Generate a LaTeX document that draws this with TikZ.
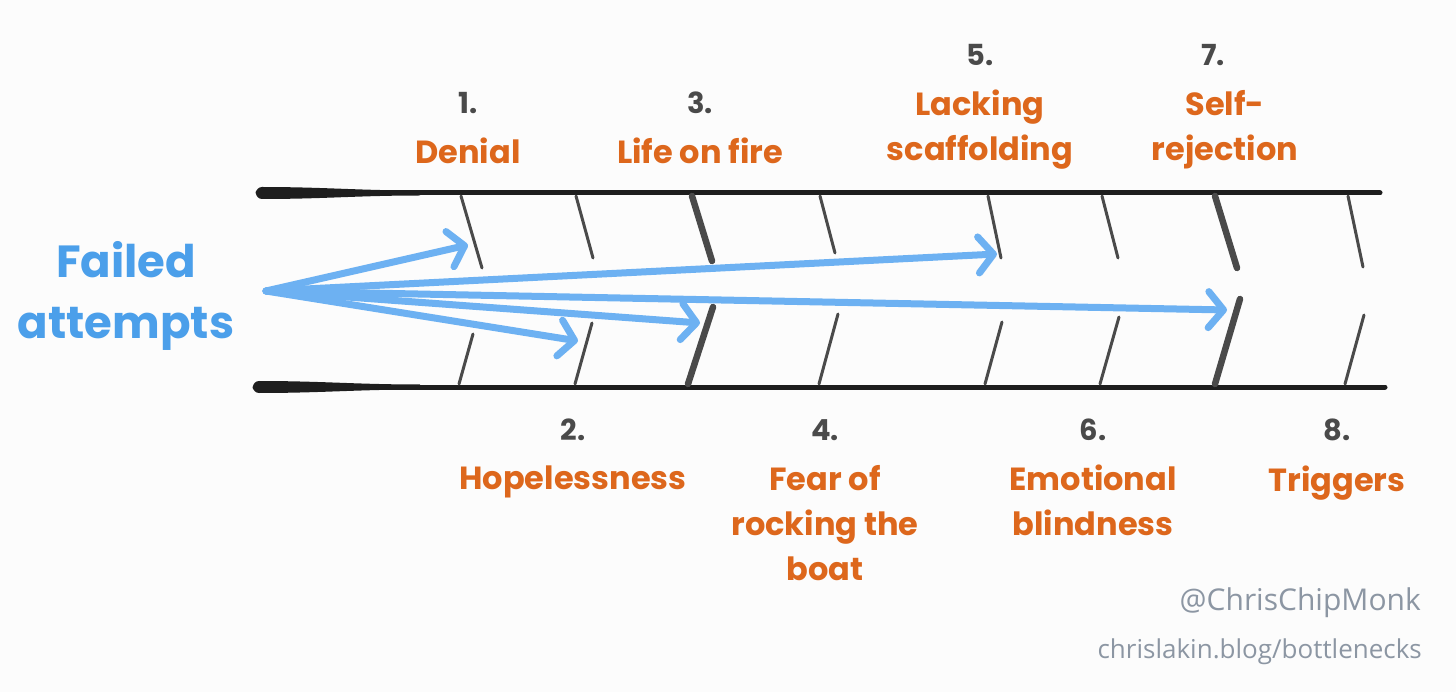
\documentclass[tikz,border=0pt]{standalone}
\usepackage{fontspec}
\usetikzlibrary{arrows.meta,positioning}
\newfontfamily\handfont{Poppins}
\newfontfamily\creditfont{Open Sans}
\definecolor{faPaper}{HTML}{FCFCFC}
\definecolor{faRail}{HTML}{1E1E1E}
\definecolor{faTick}{HTML}{4A4A4A}
\definecolor{faOrange}{HTML}{DD671C}
\definecolor{faBlue}{HTML}{4B9FEA}
\definecolor{faArrow}{HTML}{6DB1F2}
\definecolor{faGray}{HTML}{8C96A3}
\tikzset{
  rail/.style={line width=5pt, faRail, line cap=round},
  tickthin/.style={line width=3pt, faTick, line cap=round},
  tickthick/.style={line width=6.5pt, faTick, line cap=round},
  attempt/.style={line width=7pt, faArrow, line cap=round, line join=round,
    -{Straight Barb[length=15pt, width=36pt, line cap=round, line join=round]}},
  stepnum/.style={font=\handfont\bfseries\fontsize{29}{44}\selectfont, text=faTick, inner sep=0pt},
  steptext/.style={font=\handfont\bfseries\fontsize{32}{45}\selectfont, text=faOrange,
    align=center, inner sep=0pt},
  credit/.style={font=\creditfont\fontsize{#1}{#1}\selectfont, text=faGray, inner sep=0pt, anchor=east}
}
\begin{document}
\begin{tikzpicture}[x=1pt, y=-1pt, node distance=24pt]
  \fill[faPaper] (0,0) rectangle (1456,692);
  \useasboundingbox (0,0) rectangle (1456,692);

  % the two rails, thick at the left end
  \fill[faRail] (262,187) to[out=0, in=180] (420,190.5) -- (420,195.5) to[out=180, in=0] (262,199) -- cycle;
  \fill[faRail] (262,193) circle (6pt);
  \draw[rail] (258,193) -- (1380,193);
  \fill[faRail] (259,381) to[out=0, in=180] (420,384.5) -- (420,389.5) to[out=180, in=0] (259,393) -- cycle;
  \fill[faRail] (259,387) circle (6pt);
  \draw[rail] (255,387) -- (1385,387);

  % ticks hanging from the top rail
  \foreach \xa/\xb/\yb in {461/482/268, 576/593/258, 820/835/253, 988/1001/258, 1102/1118/258, 1348/1363/267}
    \draw[tickthin] (\xa,196) -- (\xb,\yb);
  \foreach \xa/\xb/\yb in {692/712/261, 1215/1237/268}
    \draw[tickthick] (\xa,196) -- (\xb,\yb);

  % ticks standing on the bottom rail
  \foreach \xa/\xb/\ya in {459/473/334, 575/592/323, 819/838/314, 985/1002/322, 1100/1119/317, 1345/1364/315}
    \draw[tickthin] (\xa,384) -- (\xb,\ya);
  \foreach \xa/\xb/\ya in {688/713/307, 1215/1240/299}
    \draw[tickthick] (\xa,384) -- (\xb,\ya);

  % failed attempts
  \node[font=\handfont\bfseries\fontsize{45}{61}\selectfont, text=faBlue, align=center, inner sep=0pt]
    (fail) at (126,296) {Failed\\attempts};
  \coordinate (src) at (266,291);
  \coordinate (hit1) at (468,245);
  \coordinate (hit2) at (578,341);
  \coordinate (hit3) at (700,323);
  \coordinate (hit5) at (997,254);
  \coordinate (hit7) at (1227,310);
  \draw[attempt] (src) -- (hit1);
  \draw[attempt] (src) -- (hit2);
  \draw[attempt] (src) -- (hit3);
  \draw[attempt] (src) -- (hit5);
  \draw[attempt] (src) -- (hit7);

  % bottlenecks above the pipe
  \node[stepnum] (n1) at (468,103) {1.};
  \node[steptext, below=of n1] (denial) {Denial};
  \node[stepnum] (n3) at (700,103) {3.};
  \node[steptext, below=of n3] (fire) {Life on fire};
  \node[stepnum] (n5) at (980,55) {5.};
  \node[steptext, below=of n5] (scaff) {Lacking\\scaffolding};
  \node[stepnum] (n7) at (1213,55) {7.};
  \node[steptext, below=of n7, xshift=12pt] (selfrej) {Self-\\rejection};

  % bottlenecks below the pipe
  \node[stepnum] (n2) at (573,430) {2.};
  \node[steptext, below=of n2] (hope) {Hopelessness};
  \node[stepnum] (n4) at (825,430) {4.};
  \node[steptext, below=of n4] (fear) {Fear of\\rocking the\\boat};
  \node[stepnum] (n6) at (1093,430) {6.};
  \node[steptext, below=of n6] (blind) {Emotional\\blindness};
  \node[stepnum] (n8) at (1337,430) {8.};
  \node[steptext, below=of n8] (trig) {Triggers};

  % credits
  \node[credit=30] (handle) at (1421,603) {@ChrisChipMonk};
  \node[credit=26] (site) at (1422,652) {chrislakin.blog/bottlenecks};
\end{tikzpicture}
\end{document}
